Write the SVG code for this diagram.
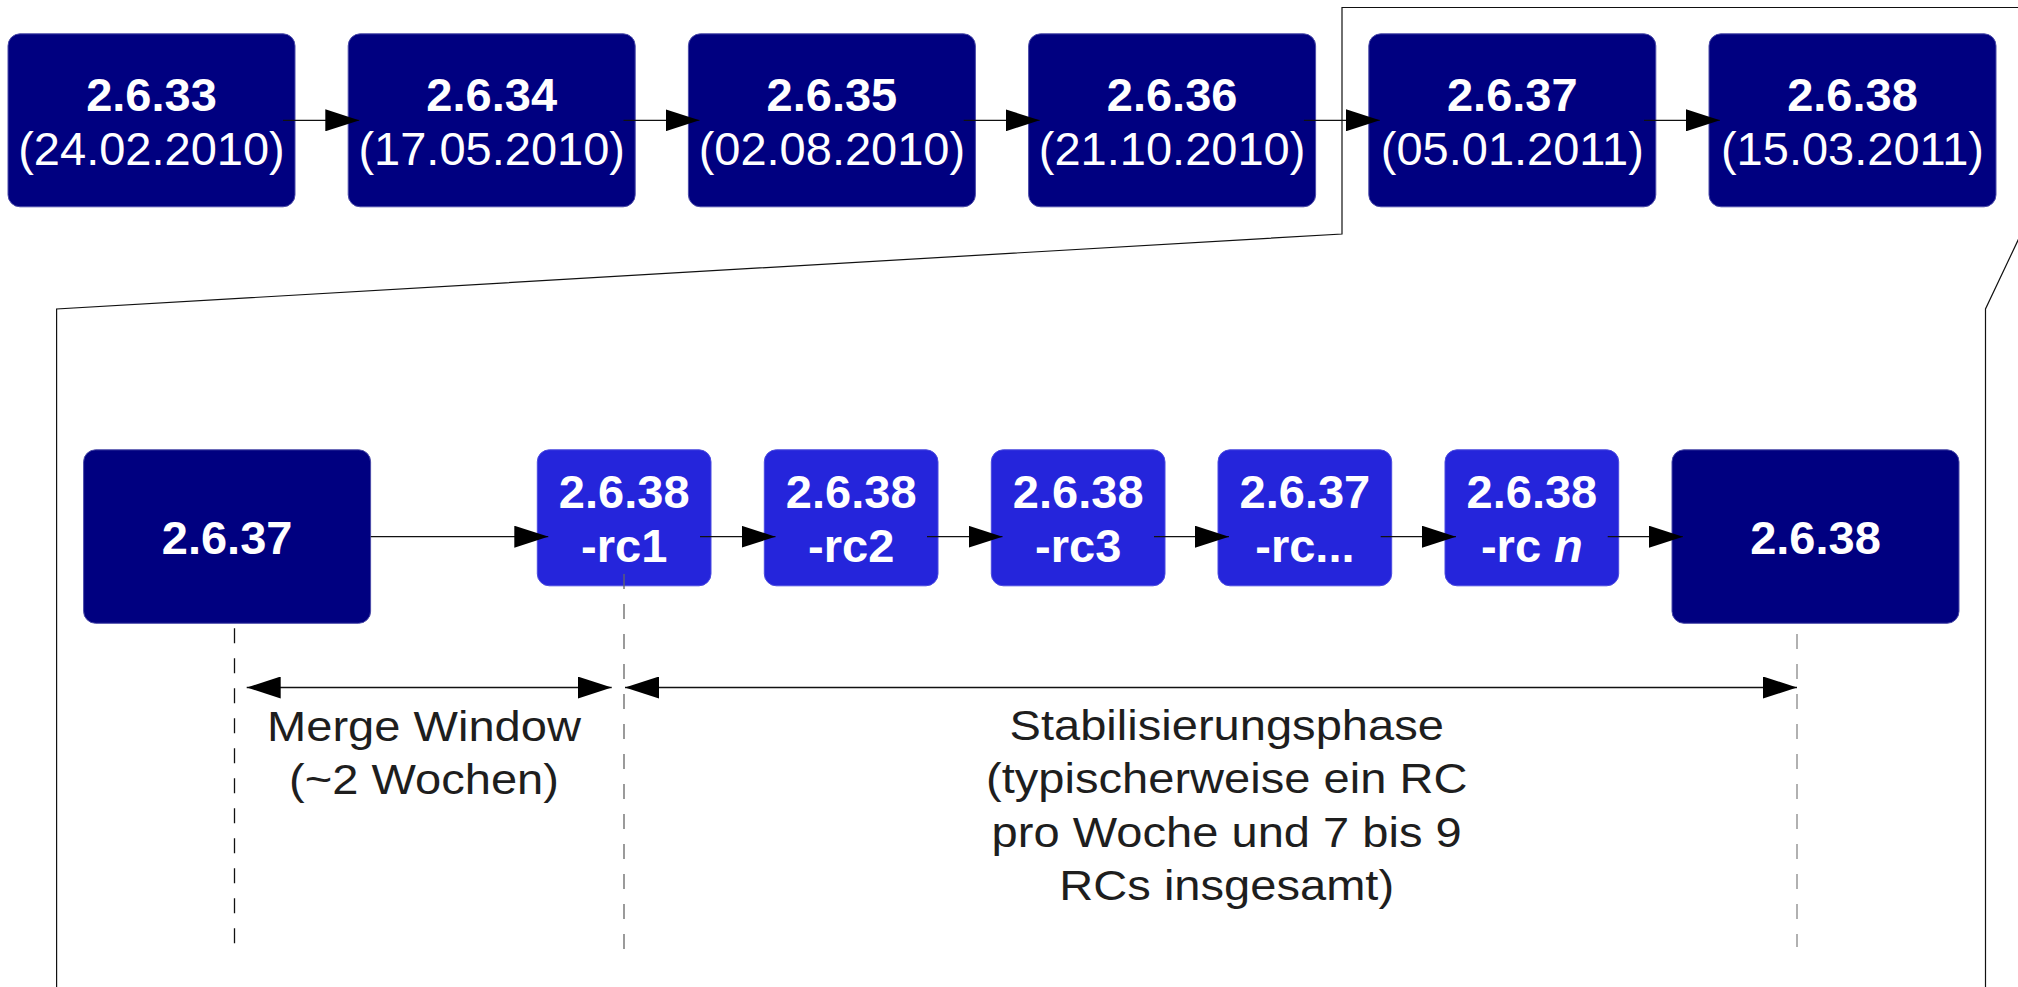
<svg xmlns="http://www.w3.org/2000/svg" width="2018" height="987" viewBox="0 0 2018 987">
<style>
.dark{fill:#000080;stroke:#4a4aa8;stroke-width:1}
.rc{fill:#2525DB;stroke:#4a4ae0;stroke-width:1}
.t{font-family:"Liberation Sans",Arial,sans-serif;font-size:47px;fill:#ffffff;text-anchor:middle}
.b{font-weight:bold}
.lbl{font-family:"Liberation Sans",Arial,sans-serif;font-size:43px;fill:#1e1e1e;text-anchor:middle}
.edge{stroke:#111;stroke-width:1.3;fill:none}
.dash{stroke-width:1.3;stroke-dasharray:15 15;fill:none}
.frame{stroke:#111;stroke-width:1.2;fill:none}
</style>
<defs>
<marker id="ah" markerUnits="userSpaceOnUse" markerWidth="34" markerHeight="22" refX="34" refY="11" orient="auto-start-reverse">
<path d="M0,0 L34,11 L0,22 Z" fill="#000"/>
</marker>
</defs>

<g id="frame">
<polyline class="frame" points="2020,7.5 1342,7.5 1342,234 56.6,309 56.6,990"/>
<polyline class="frame" points="2020,236 1985.5,309 1985.5,990"/>
</g>

<g id="n-2.6.33"><rect class="dark" x="8" y="33.8" width="287" height="173" rx="12"/><text class="t b" x="151.5" y="110.7">2.6.33</text><text class="t" x="151.5" y="164.8">(24.02.2010)</text></g>
<g id="n-2.6.34"><rect class="dark" x="348.2" y="33.8" width="287" height="173" rx="12"/><text class="t b" x="491.7" y="110.7">2.6.34</text><text class="t" x="491.7" y="164.8">(17.05.2010)</text></g>
<g id="n-2.6.35"><rect class="dark" x="688.4" y="33.8" width="287" height="173" rx="12"/><text class="t b" x="831.9" y="110.7">2.6.35</text><text class="t" x="831.9" y="164.8">(02.08.2010)</text></g>
<g id="n-2.6.36"><rect class="dark" x="1028.6" y="33.8" width="287" height="173" rx="12"/><text class="t b" x="1172.1" y="110.7">2.6.36</text><text class="t" x="1172.1" y="164.8">(21.10.2010)</text></g>
<g id="n-2.6.37"><rect class="dark" x="1368.8" y="33.8" width="287" height="173" rx="12"/><text class="t b" x="1512.3" y="110.7">2.6.37</text><text class="t" x="1512.3" y="164.8">(05.01.2011)</text></g>
<g id="n-2.6.38"><rect class="dark" x="1709" y="33.8" width="287" height="173" rx="12"/><text class="t b" x="1852.5" y="110.7">2.6.38</text><text class="t" x="1852.5" y="164.8">(15.03.2011)</text></g>

<g id="m-2.6.37"><rect class="dark" x="83.6" y="449.8" width="287" height="173.5" rx="12"/><text class="t b" x="227.1" y="553.5">2.6.37</text></g>
<g id="m-rc1"><rect class="rc" x="537.3" y="449.8" width="173.7" height="136" rx="12"/><text class="t b" x="624.2" y="508.3">2.6.38</text><text class="t b" x="624.2" y="562.3">-rc1</text></g>
<g id="m-rc2"><rect class="rc" x="764.3" y="449.8" width="173.7" height="136" rx="12"/><text class="t b" x="851.2" y="508.3">2.6.38</text><text class="t b" x="851.2" y="562.3">-rc2</text></g>
<g id="m-rc3"><rect class="rc" x="991.3" y="449.8" width="173.7" height="136" rx="12"/><text class="t b" x="1078.2" y="508.3">2.6.38</text><text class="t b" x="1078.2" y="562.3">-rc3</text></g>
<g id="m-rcx"><rect class="rc" x="1218" y="449.8" width="173.7" height="136" rx="12"/><text class="t b" x="1304.9" y="508.3">2.6.37</text><text class="t b" x="1304.9" y="562.3">-rc...</text></g>
<g id="m-rcn"><rect class="rc" x="1445" y="449.8" width="173.7" height="136" rx="12"/><text class="t b" x="1531.9" y="508.3">2.6.38</text><text class="t b" x="1531.9" y="562.3">-rc <tspan font-style="italic">n</tspan></text></g>
<g id="m-2.6.38"><rect class="dark" x="1672" y="449.8" width="287" height="173.5" rx="12"/><text class="t b" x="1815.5" y="553.5">2.6.38</text></g>

<g id="connectors">
<line class="edge" x1="283" y1="120.3" x2="359.3" y2="120.3" marker-end="url(#ah)"/>
<line class="edge" x1="623.5" y1="120.3" x2="699.5" y2="120.3" marker-end="url(#ah)"/>
<line class="edge" x1="963.7" y1="120.3" x2="1039.7" y2="120.3" marker-end="url(#ah)"/>
<line class="edge" x1="1303.9" y1="120.3" x2="1379.9" y2="120.3" marker-end="url(#ah)"/>
<line class="edge" x1="1644" y1="120.3" x2="1720" y2="120.3" marker-end="url(#ah)"/>

<line class="edge" x1="370.7" y1="536.7" x2="548.3" y2="536.7" marker-end="url(#ah)"/>
<line class="edge" x1="700" y1="536.7" x2="775.5" y2="536.7" marker-end="url(#ah)"/>
<line class="edge" x1="927" y1="536.7" x2="1002.5" y2="536.7" marker-end="url(#ah)"/>
<line class="edge" x1="1154" y1="536.7" x2="1229" y2="536.7" marker-end="url(#ah)"/>
<line class="edge" x1="1380.7" y1="536.7" x2="1456" y2="536.7" marker-end="url(#ah)"/>
<line class="edge" x1="1607.7" y1="536.7" x2="1683" y2="536.7" marker-end="url(#ah)"/>

<line class="dash" stroke="#111" x1="234.5" y1="628.3" x2="234.5" y2="944"/>
<line class="dash" stroke="#666" x1="624" y1="574" x2="624" y2="952"/>
<line class="dash" stroke="#888" x1="1797" y1="634" x2="1797" y2="947"/>

<line class="edge" x1="246.7" y1="687.5" x2="611.7" y2="687.5" marker-start="url(#ah)" marker-end="url(#ah)"/>
<line class="edge" x1="625" y1="687.5" x2="1797" y2="687.5" marker-start="url(#ah)" marker-end="url(#ah)"/>
</g>

<g id="labels">
<text class="lbl" transform="translate(424,0) scale(1.095,1)" x="0" y="740.7">Merge Window</text>
<text class="lbl" transform="translate(424,0) scale(1.095,1)" x="0" y="794.5">(~2 Wochen)</text>
<text class="lbl" transform="translate(1226.7,0) scale(1.095,1)" x="0" y="740">Stabilisierungsphase</text>
<text class="lbl" transform="translate(1226.7,0) scale(1.095,1)" x="0" y="793.5">(typischerweise ein RC</text>
<text class="lbl" transform="translate(1226.7,0) scale(1.095,1)" x="0" y="847">pro Woche und 7 bis 9</text>
<text class="lbl" transform="translate(1226.7,0) scale(1.095,1)" x="0" y="900.5">RCs insgesamt)</text>
</g>
</svg>
